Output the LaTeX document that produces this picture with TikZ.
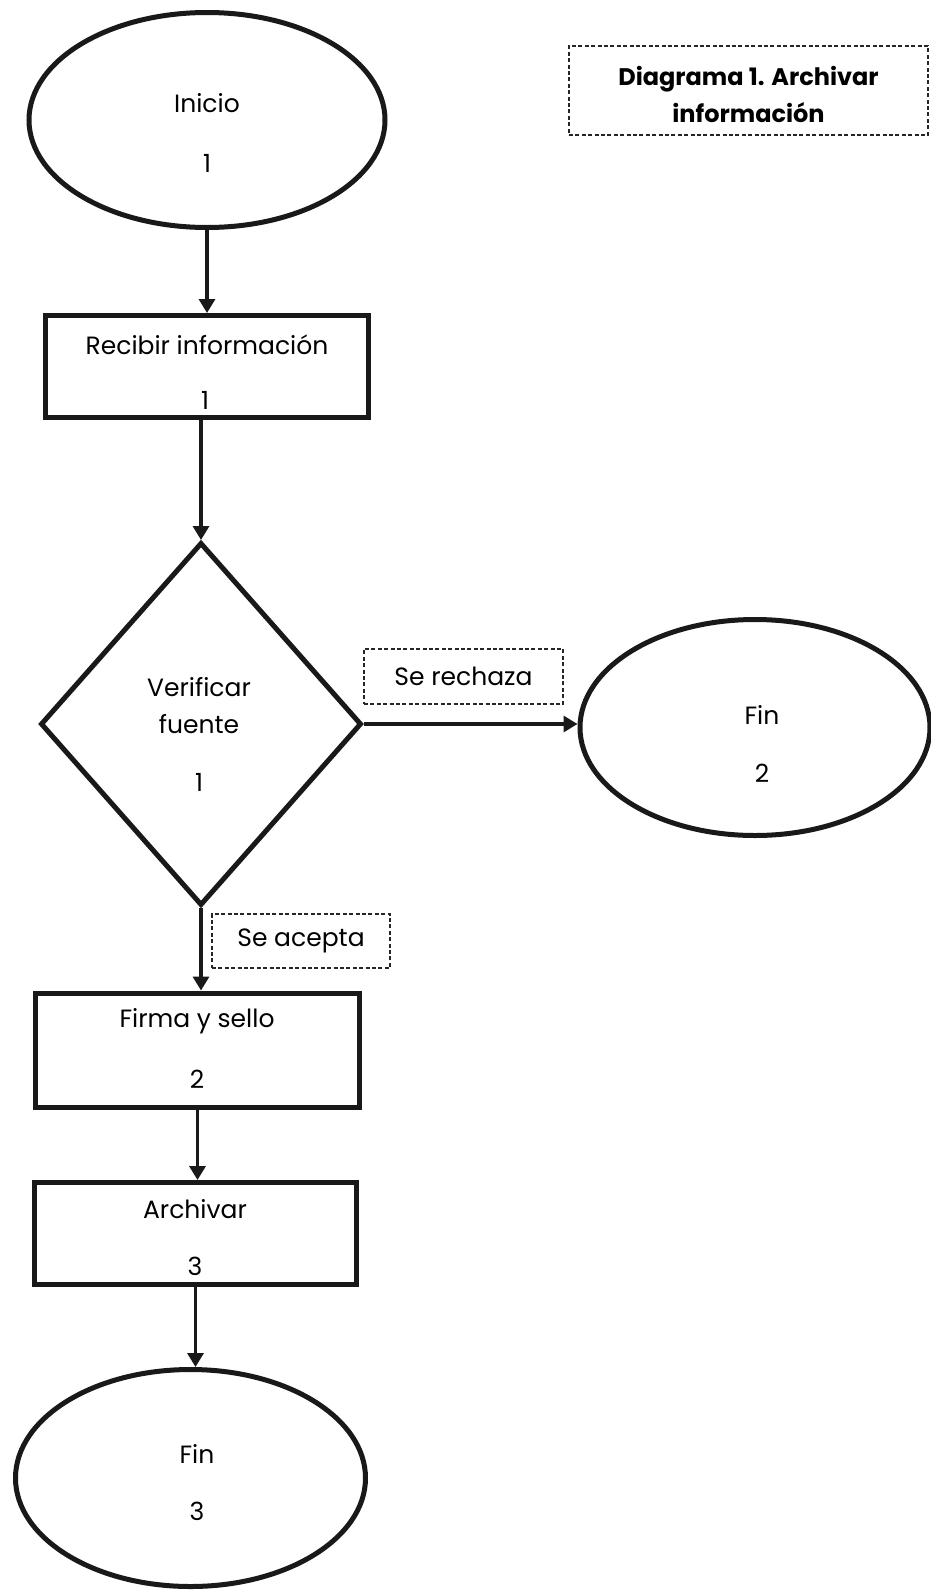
\documentclass[tikz,border=0pt]{standalone}
\usepackage{fontspec}
\setmainfont{Poppins}
\usetikzlibrary{shapes.geometric,arrows.meta,calc}

\begin{document}
\begin{tikzpicture}[x=1pt,y=-1pt]
\tikzset{
  outline/.style={draw=black!90, line width=5pt},
  terminal/.style={outline, ellipse, inner sep=0pt},
  procbox/.style={outline, rectangle, inner sep=0pt},
  decision/.style={outline, diamond, inner sep=0pt},
  tagbox/.style={draw=black!85, line width=1.5pt, dash pattern=on 4pt off 2.4pt,
                 inner sep=0pt},
  flow/.style={draw=black!90, line width=3.3pt, -{Triangle[length=14pt,width=16pt]}},
  lbl/.style={inner sep=0pt, font=\fontsize{25}{30}\selectfont},
  heading/.style={inner sep=0pt, font=\fontsize{24}{29}\selectfont\bfseries},
}
\useasboundingbox[fill=white] (0,0) rectangle (930,1590);

% shapes
\node[terminal, minimum width=356pt, minimum height=215pt] (ini) at (207,120) {};
\node[procbox, minimum width=323pt, minimum height=102pt] (rec) at (207,366.5) {};
\node[decision, minimum width=321pt, minimum height=363pt] (dia) at (201,724) {};
\node[terminal, minimum width=350pt, minimum height=216pt] (fin2) at (755,727.5) {};
\node[procbox, minimum width=324pt, minimum height=114pt] (firma) at (197.5,1050) {};
\node[procbox, minimum width=322pt, minimum height=102pt] (arch) at (195.5,1233.5) {};
\node[terminal, minimum width=350pt, minimum height=217pt] (fin3) at (190.5,1478) {};

% dashed labels
\node[tagbox, minimum width=359pt, minimum height=89pt] (title) at (748.5,90.5) {};
\node[tagbox, minimum width=199pt, minimum height=55pt] (rechaza) at (463.5,676.5) {};
\node[tagbox, minimum width=178pt, minimum height=54pt] (acepta) at (301,941) {};

% texts
\node[lbl] (ini-a) at (207,103) {Inicio};
\node[lbl] (ini-b) at (207,163) {1};
\node[lbl] (rec-a) at (207,345) {Recibir información};
\node[lbl] (rec-b) at (205,400) {1};
\node[lbl] (dia-a) at (199,687) {Verificar};
\node[lbl] (dia-b) at (199,724) {fuente};
\node[lbl] (dia-c) at (199,782) {1};
\node[lbl] (fin2-a) at (762,715) {Fin};
\node[lbl] (fin2-b) at (762,773) {2};
\node[lbl] (firma-a) at (197,1021) {Firma y sello};
\node[lbl] (firma-b) at (197,1079) {2};
\node[lbl] (arch-a) at (195,1209) {Archivar};
\node[lbl] (arch-b) at (195,1266) {3};
\node[lbl] (fin3-a) at (197,1454) {Fin};
\node[lbl] (fin3-b) at (197,1511) {3};
\node[lbl] (rechaza-t) at (rechaza) {Se rechaza};
\node[lbl] (acepta-t) at (acepta) {Se acepta};
\node[heading] (title-a) at (748.5,79) {Diagrama 1. Archivar};
\node[heading] (title-b) at (748.5,113) {información};

% connectors
\draw[flow] (ini.south) -- (rec.north);
\draw[flow] (dia.north |- rec.south) -- (dia.north);
\draw[flow] (dia.east) -- (dia.east -| fin2.west);
\draw[flow] (dia.south) -- (dia.south |- firma.north);
\draw[flow] (firma.south) -- (firma.south |- arch.north);
\draw[flow] (arch.south) -- (arch.south |- fin3.north);
\end{tikzpicture}
\end{document}
